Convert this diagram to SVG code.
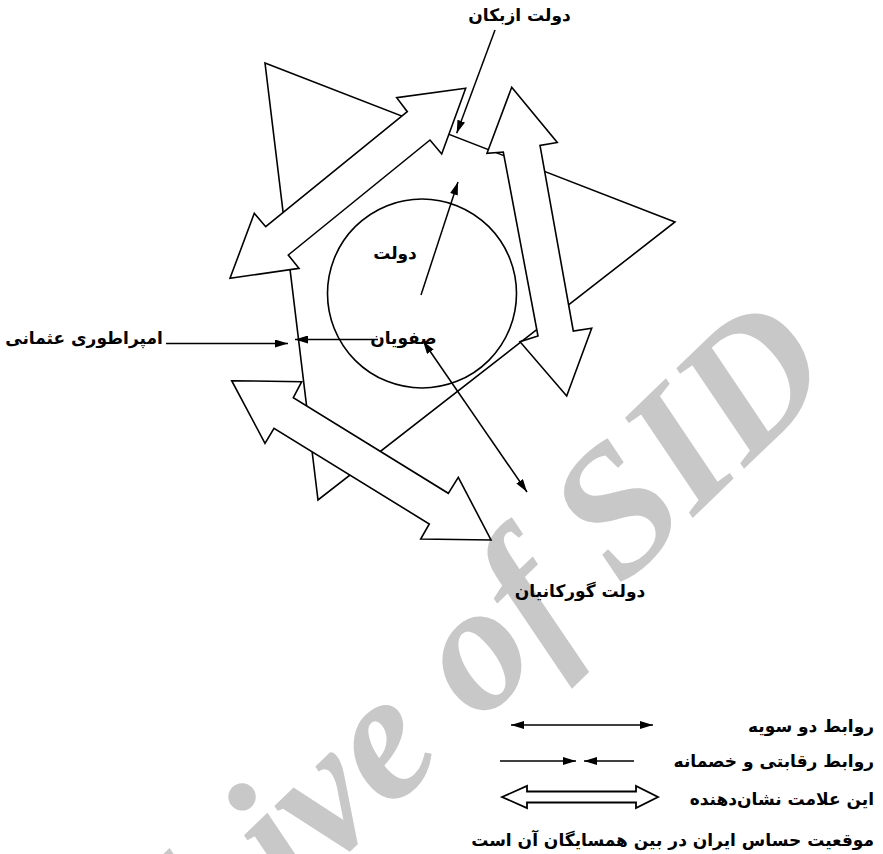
<svg xmlns="http://www.w3.org/2000/svg" width="883" height="854" viewBox="0 0 883 854">
<style>
.shape{fill:#fff;stroke:#000;stroke-width:1.6;stroke-linejoin:miter}
.ln{fill:none;stroke:#000;stroke-width:1.5}
.lbl{font-family:'DejaVu Sans',sans-serif;font-weight:bold;font-size:17px;fill:#000}
.wm{font-family:'Liberation Serif',serif;font-weight:bold;font-style:italic;font-size:182px;fill:#c8c8c8}
</style>
<defs>
<marker id="ah" viewBox="0 0 13 8" refX="13" refY="4" markerWidth="13" markerHeight="8" markerUnits="userSpaceOnUse" orient="auto-start-reverse">
<path d="M0,0 L13,4 L0,8 z" fill="#000"/>
</marker>
</defs>
<rect width="883" height="854" fill="#fff"/>
<g id="watermark">
<text class="wm" transform="translate(25,1163) rotate(-44)">Archive of SID</text>
</g>
<g id="triangle">
<polygon class="shape" points="265,63 675,222 318,500"/>
</g>
<g id="safavid-circle">
<circle class="shape" cx="422" cy="293.5" r="94.5" fill="none"/>
</g>
<g id="block-arrow-uzbek-ottoman">
<polygon class="shape" points="465.7,88.3 396.7,97.7 407.3,111.7 265.7,226.7 254.3,213.3 230,278.3 299,268.3 288.3,255 430,140 441.7,154"/>
</g>
<g id="block-arrow-uzbek-gurkani">
<polygon class="shape" points="511.7,87.3 557.3,142.5 540,145.5 573.3,331 591.7,328.3 566.7,396 520,341.7 538,336 503.3,152 487,153.3"/>
</g>
<g id="block-arrow-ottoman-gurkani">
<polygon class="shape" points="231.7,380.7 301.7,381.7 293.3,397.7 448.3,493.3 458.3,477.3 491,540 420.7,539 429.3,524 274,428.3 265,443.3"/>
</g>
<g id="connectors">
<line class="ln" x1="495" y1="30" x2="456.7" y2="133.3" marker-end="url(#ah)"/>
<line class="ln" x1="421" y1="295" x2="458" y2="182" marker-end="url(#ah)"/>
<line class="ln" x1="166" y1="343.5" x2="288" y2="343.5" marker-end="url(#ah)"/>
<line class="ln" x1="378" y1="339.5" x2="295" y2="339.5" marker-end="url(#ah)"/>
<line class="ln" x1="423" y1="341" x2="527" y2="492" marker-start="url(#ah)" marker-end="url(#ah)"/>
</g>
<g id="labels">
<text class="lbl" x="519.5" y="21" text-anchor="middle">دولت ازبکان</text>
<text class="lbl" x="84" y="344" text-anchor="middle">امپراطوری عثمانی</text>
<text class="lbl" x="395" y="259" text-anchor="middle">دولت</text>
<text class="lbl" x="403.5" y="344" text-anchor="middle">صفویان</text>
<text class="lbl" x="580" y="597" text-anchor="middle">دولت گورکانیان</text>
</g>
<g id="legend">
<line class="ln" x1="511" y1="725" x2="653" y2="725" marker-start="url(#ah)" marker-end="url(#ah)"/>
<line class="ln" x1="500" y1="761" x2="576" y2="761" marker-end="url(#ah)"/>
<line class="ln" x1="634" y1="761" x2="584" y2="761" marker-end="url(#ah)"/>
<polygon points="502,797 527,786 527,791.5 636,791.5 636,786 658,797 636,808 636,802.5 527,802.5 527,808" fill="#fff" stroke="#000" stroke-width="1.8"/>
<text class="lbl" x="874" y="732" text-anchor="end">روابط دو سویه</text>
<text class="lbl" x="874" y="767" text-anchor="end">روابط رقابتی و خصمانه</text>
<text class="lbl" x="874" y="805" text-anchor="end">این علامت نشان‌دهنده</text>
<text class="lbl" x="874" y="846" text-anchor="end">موقعیت حساس ایران در بین همسایگان آن است</text>
</g>
</svg>
